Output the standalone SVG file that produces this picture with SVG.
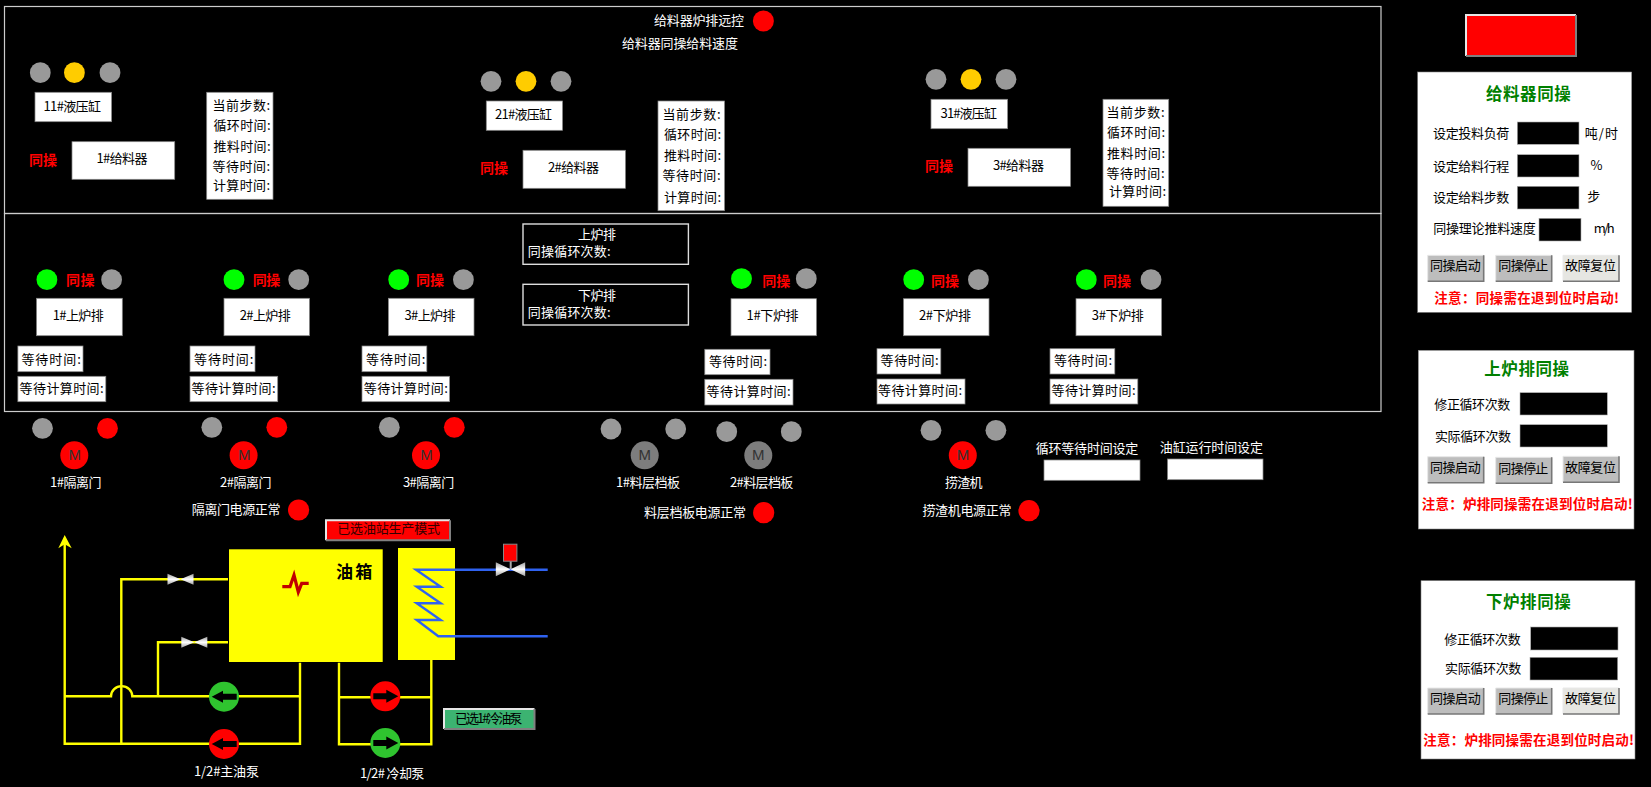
<svg xmlns="http://www.w3.org/2000/svg" xmlns:xlink="http://www.w3.org/1999/xlink" width="1651" height="787" viewBox="0 0 1651 787">
<style>
text{font-family:"Noto Sans CJK SC","Liberation Sans",sans-serif;font-size:13px;dominant-baseline:central;fill:#000;transform:translateY(-1.5px)}
.w{fill:#fff}
.r{fill:#f00;font-weight:700;font-size:14px}
.n{fill:#f00;font-weight:700;font-size:13.5px}
.h{fill:#008000;font-weight:700;font-size:16.5px;transform:translateY(-2px)}
.m{font-family:"Liberation Sans",sans-serif;font-size:15px;fill:#333;text-anchor:middle;transform:translateY(-.5px)}
.box{fill:#fff;stroke:#888;stroke-width:.75}
.inp{fill:#000;stroke:#aaa;stroke-width:.6}
.frame{fill:none;stroke:#ccc;stroke-width:1.2}
.sub{fill:none;stroke:#ddd;stroke-width:1.4}
.g{fill:#999}.y{fill:#fc0}.red{fill:#f00}.lime{fill:#0f0}
.mg{fill:#7d7d7d}
.panel{fill:#fff;stroke:#888;stroke-width:.6}
.pipe{fill:none;stroke:#ff0;stroke-width:2.4}
.blue{fill:none;stroke:#2f62f0;stroke-width:2.4}
.b1{fill:#bdbdbd}.b2{fill:#e6e6e2}
.hi{fill:none;stroke:#e6e6e6;stroke-width:2}
.lo{fill:none;stroke:#808080;stroke-width:2}
</style>
<defs>
<linearGradient id="vg" x1="0" y1="0" x2="0" y2="1"><stop offset="0" stop-color="#a0a0a0"/><stop offset=".5" stop-color="#fff"/><stop offset="1" stop-color="#a0a0a0"/></linearGradient>
<g id="valve"><path d="M-13 -5.5V5.5L0 0Z" fill="url(#vg)"/><path d="M13 -5.5V5.5L0 0Z" fill="url(#vg)"/></g>
<path id="al" d="M-12.3 0L-1 -6V-3H12.7V3H-1V6Z" fill="#000"/>
<path id="ar" d="M13 0L1 -6.5V-3H-12V3H1V6.5Z" fill="#000"/>
<g id="btn"><rect width="56" height="26"/><path d="M0 26V0H56" fill="none" stroke="#e8e8e8" stroke-width="1"/><path d="M0 26H56V0" fill="none" stroke="#777" stroke-width="1.6"/></g>
</defs>
<rect width="1651" height="787" fill="#000"/>
<g id="frames">
<rect class="frame" x="4.5" y="6.5" width="1376.5" height="207"/>
<rect class="frame" x="4.5" y="213.5" width="1376.5" height="198"/>
</g>
<g id="remote"><text class="w" x="654" y="20.7" textLength="90">给料器炉排远控</text><circle class="red" cx="763.4" cy="21" r="10.5"/></g>
<g id="speed"><text class="w" x="622" y="43.7" textLength="116">给料器同操给料速度</text></g>

<g id="feeder1">
<circle class="g" cx="40.3" cy="72.7" r="10.4"/><circle class="y" cx="74.4" cy="72.7" r="10.4"/><circle class="g" cx="110" cy="72.7" r="10.4"/>
<rect class="box" x="35" y="92.3" width="76.6" height="29.4"/><text x="43.5" y="106.7" textLength="57.5">11#液压缸</text>
<text class="r" x="29" y="160" textLength="28">同操</text>
<rect class="box" x="72" y="141.7" width="102.7" height="37.6"/><text x="96.5" y="159.3" textLength="51">1#给料器</text>
<rect class="box" x="206.7" y="92.3" width="66.3" height="107"/>
<text x="212.6" y="106" textLength="57.5">当前步数:</text><text x="213.5" y="126" textLength="57">循环时间:</text><text x="213.5" y="146.7" textLength="57">推料时间:</text><text x="212.6" y="166.7" textLength="57.5">等待时间:</text><text x="213" y="185.7" textLength="57">计算时间:</text>
</g>
<g id="feeder2">
<circle class="g" cx="491" cy="81.3" r="10.4"/><circle class="y" cx="526" cy="81.3" r="10.4"/><circle class="g" cx="561" cy="81.3" r="10.4"/>
<rect class="box" x="486.3" y="101" width="76.2" height="29.3"/><text x="495" y="115" textLength="57">21#液压缸</text>
<text class="r" x="480" y="168" textLength="28">同操</text>
<rect class="box" x="523" y="150.3" width="102.4" height="38"/><text x="548" y="168.3" textLength="51">2#给料器</text>
<rect class="box" x="658" y="101" width="66.5" height="109.7"/>
<text x="662.5" y="115" textLength="58">当前步数:</text><text x="664" y="134.7" textLength="57">循环时间:</text><text x="664" y="155.7" textLength="57">推料时间:</text><text x="662.5" y="175.7" textLength="58">等待时间:</text><text x="664" y="198" textLength="57">计算时间:</text>
</g>
<g id="feeder3">
<circle class="g" cx="936" cy="79.3" r="10.4"/><circle class="y" cx="971" cy="79.3" r="10.4"/><circle class="g" cx="1006" cy="79.3" r="10.4"/>
<rect class="box" x="931" y="99.3" width="76.6" height="29.4"/><text x="940.6" y="113.7" textLength="56.3">31#液压缸</text>
<text class="r" x="925" y="166.7" textLength="28">同操</text>
<rect class="box" x="968" y="148.3" width="102.5" height="38"/><text x="992.9" y="166" textLength="51">3#给料器</text>
<rect class="box" x="1103" y="99.3" width="65.7" height="107"/>
<text x="1106.5" y="113.3" textLength="58">当前步数:</text><text x="1107" y="132.7" textLength="58">循环时间:</text><text x="1107" y="154" textLength="58">推料时间:</text><text x="1106.5" y="174" textLength="58">等待时间:</text><text x="1109" y="192.3" textLength="57">计算时间:</text>
</g>

<g id="upper1">
<circle class="lime" cx="46.9" cy="279.7" r="10.4"/><text class="r" x="66" y="280.7" textLength="28.5">同操</text><circle class="g" cx="111.6" cy="279.7" r="10.4"/>
<rect class="box" x="36.6" y="298.3" width="85.7" height="37.4"/><text x="52.7" y="315.7" textLength="51">1#上炉排</text>
<rect class="box" x="17.9" y="346" width="65.1" height="25.7"/><text x="21.4" y="359.7" textLength="59.4">等待时间:</text>
<rect class="box" x="17.9" y="376.3" width="87.9" height="25.4"/><text x="19.6" y="389.3" textLength="84">等待计算时间:</text>
</g>
<g id="upper2">
<circle class="lime" cx="234" cy="279.7" r="10.4"/><text class="r" x="252.7" y="280.7" textLength="27.5">同操</text><circle class="g" cx="298.7" cy="279.7" r="10.4"/>
<rect class="box" x="224" y="298.3" width="85.4" height="37.4"/><text x="239.7" y="315.7" textLength="51">2#上炉排</text>
<rect class="box" x="190" y="346" width="65" height="25.7"/><text x="194" y="359.7" textLength="59.4">等待时间:</text>
<rect class="box" x="190" y="376.3" width="87.7" height="25.4"/><text x="191.5" y="389.3" textLength="84">等待计算时间:</text>
</g>
<g id="upper3">
<circle class="lime" cx="398.7" cy="279.7" r="10.4"/><text class="r" x="416" y="280.7" textLength="28">同操</text><circle class="g" cx="463.4" cy="279.7" r="10.4"/>
<rect class="box" x="388.4" y="298.3" width="85.6" height="37.4"/><text x="404.5" y="315.7" textLength="51">3#上炉排</text>
<rect class="box" x="362" y="346" width="64.8" height="25.7"/><text x="366" y="359.7" textLength="59.4">等待时间:</text>
<rect class="box" x="362" y="376.3" width="87.6" height="25.4"/><text x="363.8" y="389.3" textLength="84">等待计算时间:</text>
</g>
<g id="upper-count"><rect class="sub" x="523" y="224" width="165.4" height="40.3"/><text class="w" x="578" y="235.3" textLength="38">上炉排</text><text class="w" x="527.7" y="251.7" textLength="83">同操循环次数:</text></g>
<g id="lower-count"><rect class="sub" x="523" y="284.3" width="165.4" height="40.7"/><text class="w" x="578" y="295.7" textLength="38">下炉排</text><text class="w" x="527.7" y="312.7" textLength="83">同操循环次数:</text></g>

<g id="lower1">
<circle class="lime" cx="741.5" cy="278.7" r="10.4"/><text class="r" x="762.2" y="281" textLength="28">同操</text><circle class="g" cx="806.3" cy="278.7" r="10.4"/>
<rect class="box" x="731" y="298.7" width="85.4" height="37"/><text x="746.6" y="316" textLength="52">1#下炉排</text>
<rect class="box" x="704.8" y="349.3" width="65.2" height="25.4"/><text x="709" y="362" textLength="58">等待时间:</text>
<rect class="box" x="704.8" y="379.3" width="88.2" height="25.7"/><text x="706.6" y="392.3" textLength="84">等待计算时间:</text>
</g>
<g id="lower2">
<circle class="lime" cx="913.7" cy="279.7" r="10.4"/><text class="r" x="931" y="281" textLength="28">同操</text><circle class="g" cx="978.4" cy="279.7" r="10.4"/>
<rect class="box" x="903.6" y="298.7" width="85.4" height="37"/><text x="919" y="316" textLength="52">2#下炉排</text>
<rect class="box" x="877" y="348.7" width="63.8" height="25.3"/><text x="880.6" y="361" textLength="58">等待时间:</text>
<rect class="box" x="877" y="379" width="88" height="25"/><text x="878" y="391.3" textLength="84">等待计算时间:</text>
</g>
<g id="lower3">
<circle class="lime" cx="1086.3" cy="279.7" r="10.4"/><text class="r" x="1103" y="281" textLength="28">同操</text><circle class="g" cx="1151" cy="279.7" r="10.4"/>
<rect class="box" x="1076" y="298.7" width="85.6" height="37"/><text x="1091.8" y="316" textLength="52">3#下炉排</text>
<rect class="box" x="1050" y="348.7" width="64.8" height="25.3"/><text x="1054" y="361" textLength="58">等待时间:</text>
<rect class="box" x="1050" y="379" width="87.8" height="25"/><text x="1051.5" y="391.3" textLength="84">等待计算时间:</text>
</g>

<g id="door1"><circle class="g" cx="42.5" cy="428.3" r="10.4"/><circle class="red" cx="107.5" cy="428.3" r="10.4"/><circle class="red" cx="74.3" cy="455.3" r="14"/><text class="m" x="74.8" y="455.3">M</text><text class="w" x="50" y="483" textLength="51.4">1#隔离门</text></g>
<g id="door2"><circle class="g" cx="211.8" cy="427.3" r="10.4"/><circle class="red" cx="276.8" cy="427.3" r="10.4"/><circle class="red" cx="243.6" cy="455.3" r="14"/><text class="m" x="244.2" y="455.3">M</text><text class="w" x="220" y="483" textLength="51.4">2#隔离门</text></g>
<g id="door3"><circle class="g" cx="389.3" cy="427.3" r="10.4"/><circle class="red" cx="454.3" cy="427.3" r="10.4"/><circle class="red" cx="426" cy="455.3" r="14"/><text class="m" x="426.6" y="455.3">M</text><text class="w" x="402.9" y="483" textLength="51.4">3#隔离门</text></g>
<g id="door-power"><text class="w" x="191.8" y="510.3" textLength="88.6">隔离门电源正常</text><circle class="red" cx="298.6" cy="510" r="10.6"/></g>
<g id="baffle1"><circle class="g" cx="611" cy="429" r="10.4"/><circle class="g" cx="675.7" cy="429" r="10.4"/><circle class="mg" cx="644.7" cy="455.3" r="14"/><text class="m" x="644.7" y="455.3">M</text><text class="w" x="616" y="482.7" textLength="64">1#料层档板</text></g>
<g id="baffle2"><circle class="g" cx="726.7" cy="431.7" r="10.4"/><circle class="g" cx="791.3" cy="431.7" r="10.4"/><circle class="mg" cx="758.3" cy="455.3" r="14"/><text class="m" x="758.3" y="455.3">M</text><text class="w" x="730" y="482.7" textLength="63.3">2#料层档板</text></g>
<g id="baffle-power"><text class="w" x="644" y="513.3" textLength="102">料层档板电源正常</text><circle class="red" cx="763.7" cy="512.7" r="10.6"/></g>
<g id="scraper"><circle class="g" cx="931" cy="430.3" r="10.4"/><circle class="g" cx="995.9" cy="430.3" r="10.4"/><circle class="red" cx="962.8" cy="455.3" r="14"/><text class="m" x="963" y="455.3">M</text><text class="w" x="944.9" y="483" textLength="37.5">捞渣机</text></g>
<g id="scraper-power"><text class="w" x="922.4" y="511.3" textLength="89">捞渣机电源正常</text><circle class="red" cx="1029" cy="510.7" r="10.6"/></g>
<g id="cycle-wait"><text class="w" x="1035.8" y="449.3" textLength="102.4">循环等待时间设定</text><rect class="box" x="1044" y="460" width="96" height="20.3"/></g>
<g id="cyl-run"><text class="w" x="1159.8" y="448.3" textLength="103.2">油缸运行时间设定</text><rect class="box" x="1167.6" y="459" width="95.4" height="20.7"/></g>

<g id="connectors">
<path class="pipe" d="M64.7 544V743.7H300V662.7"/>
<path d="M64.7 535L71.7 548.3L64.7 544.3L58.3 548.3Z" fill="#ff0"/>
<path class="pipe" d="M64.7 696.3H111A10.5 10 0 0 1 132.3 696.3H300"/>
<path class="pipe" d="M121.3 743.7V579.3H228"/>
<path class="pipe" d="M158 696.3V642.3H228"/>
<path class="pipe" d="M339 662.7V744.3H431.3V660"/>
<path class="pipe" d="M339 697.3H431.3"/>
</g>

<g id="tank"><rect x="229" y="549.3" width="153.7" height="112.7" fill="#ff0"/>
<path d="M282.3 586.7H290L294 575L298.3 592L301.7 583.3H308.7" fill="none" stroke="#c00000" stroke-width="3.2"/>
<text x="336" y="571.7" textLength="36.3" style="font-size:17px;font-weight:700">油箱</text></g>
<g id="cooler"><rect x="398" y="548" width="57" height="112" fill="#ff0"/>
<path class="blue" d="M547.7 569.7H416L440.7 586.7H416.7L440.7 603.3H416.7L440.7 620H416.7L438.3 636.3H547.7"/></g>
<g id="valve1"><use xlink:href="#valve" href="#valve" x="180.5" y="579.3"/></g>
<g id="valve2"><use xlink:href="#valve" href="#valve" x="194.3" y="642.3"/></g>
<g id="valve3"><use xlink:href="#valve" href="#valve" transform="translate(510.5 569.3) scale(1.13 1.27)"/><rect x="509.7" y="561" width="2" height="8" fill="#aaa"/><rect x="503.5" y="544.2" width="13.4" height="17" fill="#f00" stroke="#888"/></g>
<g id="pump-main1"><circle cx="224" cy="696.7" r="15" fill="#2fc42f"/><use xlink:href="#al" href="#al" x="224" y="696.7"/></g>
<g id="pump-main2"><circle cx="224" cy="744" r="15" fill="#f00"/><use xlink:href="#al" href="#al" x="224" y="744"/></g>
<g id="pump-main-label"><text class="w" x="194" y="772.3" textLength="65">1/2#主油泵</text></g>
<g id="pump-cool1"><circle cx="385.3" cy="696.3" r="15" fill="#f00"/><use xlink:href="#ar" href="#ar" x="385.3" y="696.3"/></g>
<g id="pump-cool2"><circle cx="385.3" cy="743" r="15" fill="#2fc42f"/><use xlink:href="#ar" href="#ar" x="385.3" y="743"/></g>
<g id="pump-cool-label"><text class="w" x="360" y="774.3" textLength="64.3">1/2# 冷却泵</text></g>
<g id="mode-btn"><rect x="326" y="520.3" width="124" height="20" fill="#f00"/><path class="hi" d="M326 540.3V520.3H450"/><path class="lo" d="M326 540.3H450V520.3"/><text x="337.3" y="529.3" textLength="102.7" style="fill:#300">已选油站生产模式</text></g>
<g id="cool-btn"><rect x="444" y="709" width="90.5" height="20" fill="#3cb371"/><path class="hi" d="M444 729V709H534.5"/><path class="lo" d="M444 729H534.5V709"/><text x="455" y="719" textLength="67.3">已选1#冷油泵</text></g>

<g id="alarm"><rect x="1466" y="15" width="110" height="41" fill="#f00"/><path class="hi" d="M1466 56V15H1576"/><path class="lo" d="M1466 56H1576V15"/></g>

<g id="panel-feeder">
<rect class="panel" x="1417.7" y="72" width="214" height="240.3"/>
<text class="h" x="1486" y="94.7" textLength="84.7">给料器同操</text>
<text x="1433" y="134.3" textLength="76.3">设定投料负荷</text><rect class="inp" x="1517.3" y="122" width="61.7" height="22.3"/><text x="1584.7" y="134.3" textLength="33.3">吨/时</text>
<text x="1433" y="167" textLength="76.3">设定给料行程</text><rect class="inp" x="1517.3" y="154.7" width="61.7" height="22.3"/><text x="1590.5" y="165.7" textLength="7.5">%</text>
<text x="1433" y="198.3" textLength="76.3">设定给料步数</text><rect class="inp" x="1517.3" y="186.3" width="61.7" height="22.7"/><text x="1587.3" y="197" textLength="13.7">步</text>
<text x="1433.3" y="229.3" textLength="102.4">同操理论推料速度</text><rect class="inp" x="1539" y="218.3" width="42" height="22.7"/><text x="1593.7" y="228.7" textLength="21">m/h</text>
<use xlink:href="#btn" href="#btn" class="b1" x="1427.7" y="255.3"/><text x="1430" y="266" textLength="50.7">同操启动</text>
<use xlink:href="#btn" href="#btn" class="b1" x="1495.7" y="255.3"/><text x="1498.3" y="266" textLength="50">同操停止</text>
<use xlink:href="#btn" href="#btn" class="b2" x="1563" y="255.3"/><text x="1565" y="266" textLength="51">故障复位</text>
<text class="n" x="1434.3" y="298" textLength="184.7">注意：同操需在退到位时启动!</text>
</g>
<g id="panel-upper">
<rect class="panel" x="1418.3" y="350.3" width="215.7" height="178.7"/>
<text class="h" x="1484.3" y="370" textLength="84.7">上炉排同操</text>
<text x="1434.3" y="405.3" textLength="76">修正循环次数</text><rect class="inp" x="1520" y="392.7" width="87.3" height="22.3"/>
<text x="1435" y="437" textLength="76">实际循环次数</text><rect class="inp" x="1520" y="424.7" width="87.3" height="22.3"/>
<use xlink:href="#btn" href="#btn" class="b1" x="1427.7" y="456.7"/><text x="1430" y="468" textLength="50.7">同操启动</text>
<use xlink:href="#btn" href="#btn" class="b1" x="1495.7" y="457.3"/><text x="1498.3" y="469" textLength="50">同操停止</text>
<use xlink:href="#btn" href="#btn" class="b1" x="1563" y="456.3"/><text x="1565" y="467.5" textLength="51">故障复位</text>
<text class="n" x="1421.7" y="504.3" textLength="211">注意：炉排同操需在退到位时启动!</text>
</g>
<g id="panel-lower">
<rect class="panel" x="1421" y="580.7" width="214" height="178.3"/>
<text class="h" x="1486" y="603.3" textLength="84.7">下炉排同操</text>
<text x="1444.3" y="639.7" textLength="76.4">修正循环次数</text><rect class="inp" x="1530.7" y="627" width="87.3" height="23"/>
<text x="1445" y="669" textLength="76.3">实际循环次数</text><rect class="inp" x="1530" y="657.3" width="87.7" height="22.7"/>
<use xlink:href="#btn" href="#btn" class="b1" x="1427.7" y="688"/><text x="1430" y="699" textLength="50.7">同操启动</text>
<use xlink:href="#btn" href="#btn" class="b1" x="1495.7" y="688"/><text x="1498.3" y="699" textLength="50">同操停止</text>
<use xlink:href="#btn" href="#btn" class="b2" x="1563" y="688"/><text x="1565" y="699" textLength="51">故障复位</text>
<text class="n" x="1423.3" y="740" textLength="210.7">注意：炉排同操需在退到位时启动!</text>
</g>
</svg>
